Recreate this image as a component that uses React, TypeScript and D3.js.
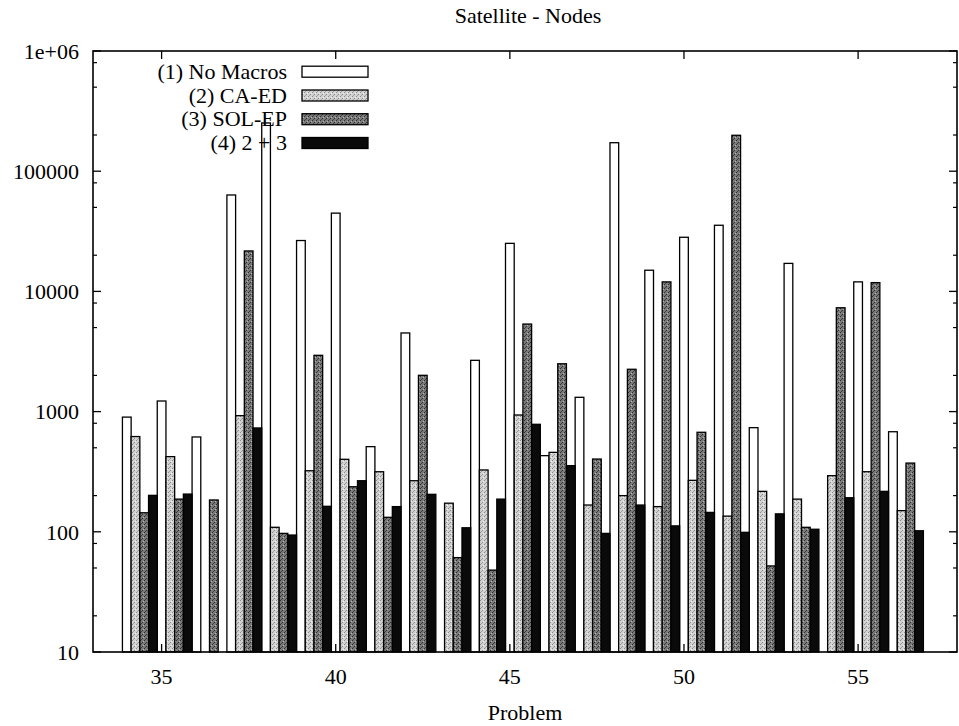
import React from "react";
import * as d3 from "d3";

const problems = [34, 35, 36, 37, 38, 39, 40, 41, 42, 43, 44, 45, 46, 47, 48, 49, 50, 51, 52, 53, 54, 55, 56];
const noMacros = [900, 1225, 615, 63400, 252000, 26500, 44800, 511, 4510, null, 2670, 25100, 430, 1315, 172600, 15000, 28200, 35500, 735, 17100, null, 12000, 680];
const caEd = [620, 422, null, 925, 109, 322, 401, 316, 266, 173, 327, 937, 458, 167, 200, 162, 268, 135, 217, 187, 293, 316, 150];
const solEp = [144, 187, 184, 21700, 97, 2940, 237, 132, 2004, 61, 48, 5350, 2500, 403, 2250, 12000, 673, 199000, 52, 109, 7310, 11830, 373];
const both = [201, 206, null, 731, 94, 163, 266, 162, 205, 108, 187, 784, 355, 97, 167, 112, 145, 99, 141, 105, 192, 217, 102];

const seriesNames = ["(1) No Macros", "(2) CA-ED", "(3) SOL-EP", "(4) 2 + 3"];
const seriesValues = [noMacros, caEd, solEp, both];
const xTicks = [35, 40, 45, 50, 55];
const yMajor = [10, 100, 1000, 10000, 100000, 1000000];
const yLabels = ["10", "100", "1000", "10000", "100000", "1e+06"];
const yMinorFactors = [2, 5, 8];

const W = 959;
const H = 726;
const L = 93, R = 957, T = 51, B = 652;
const FONT = "'Liberation Serif', 'Times New Roman', serif";
const FS = 22;

export default function App() {
  const x = d3.scaleLinear().domain([33.03, 57.84]).range([L, R]);
  const y = d3.scaleLog().domain([10, 1e6]).range([B, T]);
  const fills = ["none", "url(#pat2)", "url(#pat3)", "#0a0a0a"];
  const barW = 0.25;

  const minors: number[] = [];
  for (let d = 10; d < 1e6; d *= 10) {
    yMinorFactors.forEach((f) => minors.push(d * f));
  }

  const legendRows = [71.7, 95.5, 119.2, 143];

  return (
    <svg width={W} height={H} style={{ position: "absolute", left: 0, top: 0, background: "#fff" }} fontFamily={FONT}>
      <defs>
        <pattern id="pat2" width="4" height="4" patternUnits="userSpaceOnUse">
          <rect width="4" height="4" fill="#d2d2d2" />
          <rect x="0" y="0" width="1" height="1" fill="#8c8c8c" />
          <rect x="2" y="2" width="1" height="1" fill="#8c8c8c" />
          <rect x="3" y="1" width="1" height="1" fill="#f0f0f0" />
          <rect x="1" y="3" width="1" height="1" fill="#a0a0a0" />
        </pattern>
        <pattern id="pat3" width="4" height="4" patternUnits="userSpaceOnUse">
          <rect width="4" height="4" fill="#7a7a7a" />
          <rect x="0" y="0" width="1" height="1" fill="#2e2e2e" />
          <rect x="2" y="2" width="1" height="1" fill="#2e2e2e" />
          <rect x="3" y="1" width="1" height="1" fill="#b4b4b4" />
          <rect x="1" y="3" width="1" height="1" fill="#404040" />
        </pattern>
      </defs>

      <text x={528} y={23} textAnchor="middle" fontSize={FS}>Satellite - Nodes</text>

      {/* bars */}
      {seriesValues.map((vals, si) =>
        vals.map((v, i) => {
          if (v == null) return null;
          const p = problems[i];
          const c = p + si * barW;
          const x0 = x(c - barW / 2);
          const x1 = x(c + barW / 2);
          const yt = y(v);
          return (
            <rect
              key={`b-${si}-${i}`}
              x={x0}
              y={yt}
              width={x1 - x0}
              height={B - yt}
              fill={fills[si]}
              stroke="#000"
              strokeWidth={1.3}
            />
          );
        })
      )}

      {/* frame */}
      <rect x={L} y={T} width={R - L} height={B - T} fill="none" stroke="#000" strokeWidth={1.6} />

      {/* y ticks */}
      {yMajor.map((v, i) => (
        <g key={`ym-${v}`}>
          <line x1={L} x2={L + 8} y1={y(v)} y2={y(v)} stroke="#000" strokeWidth={1.3} />
          <line x1={R} x2={R - 8} y1={y(v)} y2={y(v)} stroke="#000" strokeWidth={1.3} />
          <text x={79} y={y(v)} dy="0.35em" textAnchor="end" fontSize={FS}>{yLabels[i]}</text>
        </g>
      ))}
      {minors.map((v) => (
        <g key={`yn-${v}`}>
          <line x1={L} x2={L + 4} y1={y(v)} y2={y(v)} stroke="#000" strokeWidth={1.2} />
          <line x1={R} x2={R - 4} y1={y(v)} y2={y(v)} stroke="#000" strokeWidth={1.2} />
        </g>
      ))}

      {/* x ticks */}
      {xTicks.map((t) => (
        <g key={`xt-${t}`}>
          <line x1={x(t)} x2={x(t)} y1={B} y2={B - 8} stroke="#000" strokeWidth={1.3} />
          <line x1={x(t)} x2={x(t)} y1={T} y2={T + 8} stroke="#000" strokeWidth={1.3} />
          <text x={x(t)} y={684} textAnchor="middle" fontSize={FS}>{t}</text>
        </g>
      ))}

      <text x={525} y={720} textAnchor="middle" fontSize={FS}>Problem</text>

      {/* legend */}
      {seriesNames.map((n, i) => (
        <g key={`lg-${i}`}>
          <text x={287} y={legendRows[i]} dy="0.33em" textAnchor="end" fontSize={FS}>{n}</text>
          <rect
            x={302}
            y={legendRows[i] - 5.5}
            width={66}
            height={11}
            fill={fills[i] === "none" ? "none" : fills[i]}
            stroke="#000"
            strokeWidth={1.3}
          />
        </g>
      ))}
    </svg>
  );
}
